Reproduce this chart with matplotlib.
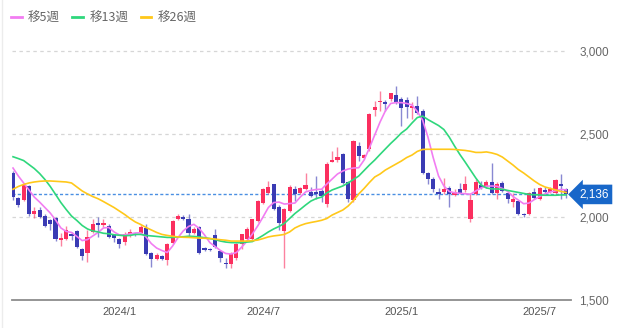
import numpy as np
import matplotlib
matplotlib.use("Agg")
import matplotlib.pyplot as plt
from matplotlib.lines import Line2D
from matplotlib.transforms import blended_transform_factory

plt.rcParams['font.family'] = ['Liberation Sans', 'Noto Sans CJK JP', 'DejaVu Sans']
plt.rcParams['lines.scale_dashes'] = False

# Weekly OHLC (one entry per week)
opens = [2265, 2115, 2102, 2187, 2020, 2042, 2006, 1980, 1994, 1860,
         1870, 1900, 1915, 1809, 1781, 1910, 1966, 1950, 1946, 1892,
         1869, 1850, 1900, 1900, 1905, 1936, 1785, 1747, 1765, 1739,
         1845, 1986, 2002, 1986, 1905, 1940, 1811, 1810, 1892, 1795,
         1725, 1715, 1753, 1837, 1866, 1866, 1976, 2086, 2146, 2197,
         2060, 1916, 2036, 2167, 2146, 2167, 2152, 2150, 2157, 2077,
         2333, 2342, 2378, 2211, 2100, 2428, 2354, 2408, 2643, 2690,
         2694, 2709, 2735, 2709, 2705, 2659, 2669, 2639, 2267, 2227,
         2152, 2150, 2177, 2133, 2170, 2161, 1986, 2140, 2191, 2181,
         2211, 2146, 2203, 2142, 2092, 2096, 2020, 2020, 2151, 2107,
         2163, 2152, 2146, 2200, 2170]
highs = [2277, 2120, 2205, 2190, 2060, 2060, 2018, 1990, 2000, 1905,
         1946, 1910, 1920, 1815, 1920, 1990, 2000, 1990, 1955, 1900,
         1875, 1910, 1930, 1905, 1950, 1956, 1790, 1785, 1770, 1845,
         1980, 2020, 2010, 2020, 1940, 1945, 1820, 1815, 1930, 1800,
         1755, 1790, 1845, 1900, 1940, 1990, 2100, 2175, 2215, 2200,
         2070, 2055, 2190, 2187, 2180, 2265, 2180, 2245, 2170, 2330,
         2400, 2420, 2385, 2215, 2465, 2450, 2380, 2625, 2700, 2760,
         2705, 2750, 2790, 2720, 2720, 2690, 2730, 2650, 2270, 2240,
         2175, 2237, 2185, 2170, 2205, 2250, 2146, 2230, 2215, 2220,
         2325, 2210, 2215, 2150, 2146, 2100, 2025, 2150, 2177, 2180,
         2180, 2180, 2230, 2260, 2175]
lows = [2102, 2060, 2095, 2006, 1995, 1995, 1940, 1920, 1855, 1826,
        1860, 1860, 1815, 1740, 1730, 1905, 1880, 1940, 1875, 1850,
        1815, 1830, 1880, 1885, 1900, 1770, 1700, 1740, 1740, 1710,
        1840, 1980, 1980, 1880, 1895, 1780, 1795, 1795, 1815, 1730,
        1690, 1690, 1740, 1810, 1860, 1860, 1970, 2080, 2140, 2040,
        1920, 1690, 2030, 2096, 2140, 2160, 2120, 2110, 2090, 2060,
        2330, 2330, 2200, 2090, 2090, 2340, 2350, 2400, 2610, 2640,
        2640, 2700, 2680, 2548, 2598, 2590, 2620, 2260, 2200, 2150,
        2110, 2137, 2060, 2125, 2140, 2150, 1970, 2135, 2170, 2175,
        2140, 2107, 2150, 2085, 2060, 2015, 2003, 2010, 2110, 2100,
        2145, 2145, 2140, 2107, 2116]
closes = [2120, 2072, 2193, 2018, 2036, 2000, 1946, 1960, 1867, 1875,
          1922, 1888, 1821, 1765, 1881, 1958, 1953, 1962, 1881, 1875,
          1835, 1898, 1910, 1890, 1940, 1777, 1745, 1771, 1747, 1839,
          1976, 2006, 1986, 1905, 1928, 1785, 1799, 1800, 1819, 1751,
          1715, 1779, 1839, 1898, 1926, 1986, 2096, 2167, 2181, 2046,
          1966, 2048, 2181, 2137, 2173, 2193, 2127, 2139, 2127, 2321,
          2342, 2361, 2207, 2108, 2458, 2367, 2373, 2619, 2663, 2699,
          2678, 2745, 2695, 2658, 2660, 2669, 2628, 2267, 2227, 2167,
          2140, 2167, 2137, 2151, 2146, 2200, 2100, 2211, 2177, 2211,
          2146, 2200, 2157, 2107, 2107, 2020, 2010, 2142, 2116, 2175,
          2153, 2167, 2221, 2187, 2136]

# Moving averages (5, 13 and 26 weeks)
ma5 = [2295, 2247, 2205, 2163, 2120, 2090, 2057, 2024, 1982, 1934,
       1913, 1907, 1883, 1858, 1864, 1886, 1907, 1934, 1937, 1910,
       1892, 1892, 1898, 1904, 1905, 1880, 1840, 1813, 1798, 1786,
       1825, 1875, 1916, 1943, 1956, 1931, 1892, 1846, 1822, 1798,
       1780, 1777, 1786, 1819, 1855, 1898, 1946, 2000, 2057, 2087,
       2090, 2078, 2081, 2084, 2120, 2151, 2160, 2166, 2167, 2199,
       2229, 2259, 2277, 2289, 2295, 2297, 2343, 2416, 2494, 2572,
       2639, 2684, 2689, 2689, 2684, 2675, 2636, 2584, 2482, 2357,
       2247, 2187, 2154, 2146, 2143, 2140, 2137, 2157, 2175, 2186,
       2187, 2185, 2172, 2154, 2123, 2102, 2080, 2084, 2105, 2123,
       2139, 2151, 2158, 2166, 2163]
ma13 = [2363, 2352, 2340, 2316, 2292, 2262, 2226, 2184, 2136, 2087,
        2045, 2006, 1979, 1949, 1928, 1916, 1910, 1902, 1899, 1893,
        1890, 1887, 1889, 1895, 1895, 1889, 1886, 1883, 1880, 1877,
        1877, 1880, 1881, 1884, 1883, 1880, 1875, 1870, 1864, 1855,
        1849, 1846, 1845, 1845, 1849, 1852, 1870, 1889, 1910, 1928,
        1943, 1961, 1991, 2021, 2046, 2072, 2096, 2111, 2120, 2145,
        2163, 2175, 2187, 2205, 2226, 2247, 2280, 2313, 2343, 2377,
        2410, 2443, 2473, 2506, 2530, 2566, 2599, 2608, 2587, 2569,
        2551, 2527, 2482, 2428, 2377, 2331, 2283, 2235, 2193, 2175,
        2169, 2169, 2167, 2160, 2154, 2148, 2142, 2136, 2134, 2133,
        2131, 2131, 2131, 2133, 2133]
ma26 = [2167, 2184, 2196, 2205, 2211, 2215, 2217, 2217, 2215, 2213,
        2211, 2205, 2181, 2157, 2139, 2123, 2110, 2093, 2075, 2057,
        2036, 2015, 1991, 1970, 1955, 1937, 1922, 1907, 1895, 1889,
        1884, 1880, 1878, 1877, 1875, 1873, 1872, 1870, 1867, 1863,
        1860, 1855, 1855, 1855, 1855, 1857, 1861, 1870, 1880, 1886,
        1890, 1895, 1910, 1934, 1949, 1960, 1967, 1973, 1980, 1991,
        2012, 2027, 2042, 2066, 2099, 2139, 2172, 2208, 2241, 2259,
        2283, 2301, 2319, 2337, 2358, 2373, 2395, 2407, 2408, 2408,
        2408, 2408, 2408, 2407, 2404, 2401, 2396, 2389, 2389, 2392,
        2386, 2377, 2361, 2337, 2313, 2286, 2265, 2241, 2217, 2196,
        2181, 2172, 2163, 2154, 2148]

last_price = 2136
ma_labels = ['移5週', '移13週', '移26週']
tick_weeks = [20, 47, 73, 99]
tick_labels = ['2024/1', '2024/7', '2025/1', '2025/7']
y_ticks = [1500, 2000, 2500, 3000]

UP = '#fb2f5f'
DOWN = '#3a3bb4'
MA_COLORS = ['#f27df2', '#2fd77c', '#ffc81a']

fig = plt.figure(figsize=(6.32, 3.28), dpi=100)
ax = fig.add_axes([12 / 632, 28 / 328, 559 / 632, 265.6 / 328])
ax.set_xlim(-0.19, 104.9)
ax.set_ylim(1500, 3100)

o = np.array(opens, float)
h = np.array(highs, float)
l = np.array(lows, float)
c = np.array(closes, float)
x = np.arange(len(o))
rising = c >= o

# dashed guide lines
for yv in y_ticks[1:]:
    ax.axhline(yv, xmax=0.991, color='#d6d6d6', lw=0.9, ls=(0, (2.5, 2.5)), zorder=0)
ax.axhline(last_price, xmax=0.991, color='#4a8fe2', lw=1.0, ls=(0, (2.2, 1.6)), zorder=1)

# candles
body_col = np.where(rising, UP, DOWN)
ax.vlines(x[rising], l[rising], h[rising], colors=UP, lw=1.0, alpha=0.6, zorder=2)
ax.vlines(x[~rising], l[~rising], h[~rising], colors=DOWN, lw=1.0, alpha=0.6, zorder=2)
ax.bar(x, np.maximum(np.abs(c - o), 7), bottom=np.minimum(o, c), width=0.78,
       color=body_col, linewidth=0, zorder=3)

# moving averages
lines = []
for vals, col, lab in zip([ma5, ma13, ma26], MA_COLORS, ma_labels):
    ln, = ax.plot(x, vals, color=col, lw=1.2, label=lab, zorder=4)
    lines.append(ln)

for side in ['top', 'left', 'right']:
    ax.spines[side].set_visible(False)
ax.spines['bottom'].set_color('#8c8c8c')
ax.spines['bottom'].set_linewidth(1.3)

ax.yaxis.tick_right()
ax.set_yticks(y_ticks)
ax.set_yticklabels([f'{v:,}' for v in y_ticks])
ax.tick_params(axis='y', length=0, pad=6, labelcolor='#666666', labelsize=8.5)
ax.set_xticks(tick_weeks)
ax.set_xticklabels(tick_labels)
ax.tick_params(axis='x', length=0, pad=5, labelcolor='#555555', labelsize=8)

# last price tag
trans = blended_transform_factory(ax.transAxes, ax.transData)
ax.text(1.0 + 8 / 559, last_price, f'{last_price:,}', transform=trans,
        ha='left', va='center', color='white', fontsize=8.5,
        bbox=dict(boxstyle='larrow,pad=0.32', fc='#1867c9', ec='none'), zorder=6)

leg = fig.legend(handles=lines, loc='center left', bbox_to_anchor=(11 / 632, 1 - 18 / 328),
                 ncol=3, frameon=False, handlelength=0.85, handletextpad=0.5,
                 columnspacing=1.0, borderpad=0, borderaxespad=0,
                 prop={'family': ['Noto Sans CJK JP', 'DejaVu Sans'], 'size': 9})
for t in leg.get_texts():
    t.set_color('#666666')
for ln in leg.get_lines():
    ln.set_linewidth(2)

fig.add_artist(Line2D([1.5 / 632, 1.5 / 632], [0, 1], color='#ececec', lw=1))

fig.savefig('out.png', dpi=100, facecolor='white')
